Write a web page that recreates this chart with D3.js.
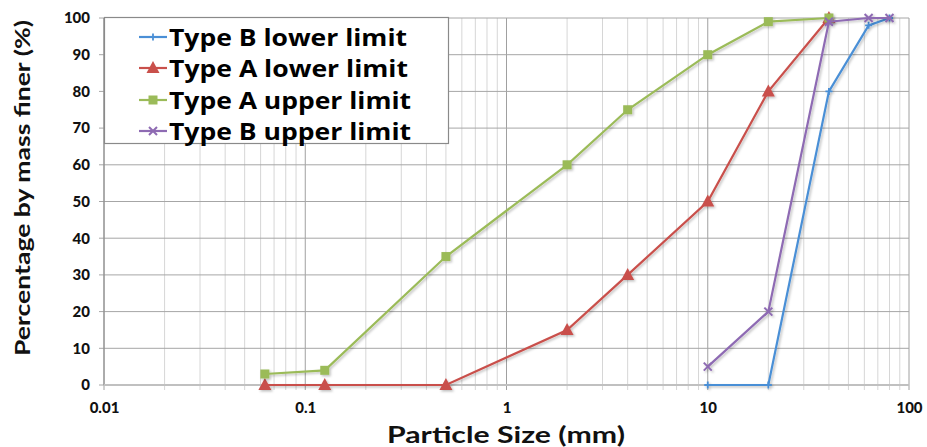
<!DOCTYPE html>
<html><head><meta charset="utf-8">
<script src="https://cdn.jsdelivr.net/npm/d3@7"></script>
<style>body{margin:0;background:#fff}svg{display:block}</style>
</head><body>
<svg id="c" width="927" height="447"></svg>
<script>
const yTicks = [0,10,20,30,40,50,60,70,80,90,100];
const xTicks = [0.01,0.1,1,10,100];
const xTickLabels = ["0.01","0.1","1","10","100"];
const seriesNames = ["Type B lower limit","Type A lower limit","Type A upper limit","Type B upper limit"];
const seriesColors = ["#4a8fd6","#c9504b","#9bbb59","#8e6bb3"];
const seriesMarkers = ["plus","triangle","square","x"];
const typeBLowerX = [10,20,40,63,80];
const typeBLowerY = [0,0,80,98,100];
const typeALowerX = [0.063,0.125,0.5,2,4,10,20,40];
const typeALowerY = [0,0,0,15,30,50,80,100];
const typeAUpperX = [0.063,0.125,0.5,2,4,10,20,40];
const typeAUpperY = [3,4,35,60,75,90,99,100];
const typeBUpperX = [10,20,40,63,80];
const typeBUpperY = [5,20,99,100,100];

const seriesData = [
  typeBLowerX.map((x,i)=>({x,y:typeBLowerY[i]})),
  typeALowerX.map((x,i)=>({x,y:typeALowerY[i]})),
  typeAUpperX.map((x,i)=>({x,y:typeAUpperY[i]})),
  typeBUpperX.map((x,i)=>({x,y:typeBUpperY[i]}))
];

const svg = d3.select("#c");
const x = d3.scaleLog().domain([0.01,100]).range([104,909]);
const y = d3.scaleLinear().domain([0,100]).range([385,18]);
const font = "Lato, 'Open Sans', sans-serif";
const legendFont = "'Open Sans', Lato, sans-serif";

// minor vertical gridlines
const minor = [];
for (let d=0.01; d<100; d*=10) for (let k=2;k<=9;k++) minor.push(d*k);
svg.append("g").selectAll("line").data(minor).join("line")
  .attr("x1",d=>x(d)).attr("x2",d=>x(d)).attr("y1",y(100)).attr("y2",y(0)+5)
  .attr("stroke","#d6d6d6").attr("stroke-width",1);
// major vertical gridlines
svg.append("g").selectAll("line").data(xTicks).join("line")
  .attr("x1",d=>x(d)).attr("x2",d=>x(d)).attr("y1",y(100)).attr("y2",y(0)+5)
  .attr("stroke","#a0a0a0").attr("stroke-width",1);
// horizontal gridlines
svg.append("g").selectAll("line").data(yTicks).join("line")
  .attr("x1",x(0.01)-5).attr("x2",x(100)).attr("y1",d=>y(d)).attr("y2",d=>y(d))
  .attr("stroke","#a6a6a6").attr("stroke-width",1);
// axis lines
svg.append("line").attr("x1",x(0.01)).attr("x2",x(0.01)).attr("y1",y(100)).attr("y2",y(0))
  .attr("stroke","#888").attr("stroke-width",1);
svg.append("line").attr("x1",x(0.01)).attr("x2",x(100)).attr("y1",y(0)).attr("y2",y(0))
  .attr("stroke","#c0c0c0").attr("stroke-width",2);

// Axes labels via d3 axes
const yAxis = d3.axisLeft(y).tickValues(yTicks).tickSize(0).tickPadding(14);
const gy = svg.append("g").attr("transform",`translate(${x(0.01)},0)`).call(yAxis);
gy.select(".domain").remove();
gy.selectAll("text").attr("font-family",font).attr("font-weight","900").attr("font-size",15).attr("fill","#111");

const xAxis = d3.axisBottom(x).tickValues(xTicks).tickFormat((d,i)=>xTickLabels[i]).tickSize(0).tickPadding(17);
const gx = svg.append("g").attr("transform",`translate(0,${y(0)})`).call(xAxis);
gx.select(".domain").remove();
gx.selectAll("text").attr("font-family",font).attr("font-weight","900").attr("font-size",15).attr("fill","#111");

// titles
svg.append("text").attr("x",506).attr("y",443).attr("text-anchor","middle")
  .attr("font-family",font).attr("font-weight","bold").attr("font-size",22).attr("fill","#111")
  .attr("textLength",238).attr("lengthAdjust","spacingAndGlyphs").text("Particle Size (mm)");
svg.append("text").attr("transform","translate(30,188) rotate(-90)").attr("text-anchor","middle")
  .attr("font-family",font).attr("font-weight","bold").attr("font-size",21).attr("fill","#111")
  .attr("textLength",336).attr("lengthAdjust","spacingAndGlyphs").text("Percentage by mass finer (%)");

// shadow filter
const defs = svg.append("defs");
const f = defs.append("filter").attr("id","sh").attr("x","-10%").attr("y","-10%").attr("width","130%").attr("height","130%");
f.append("feDropShadow").attr("dx",1.5).attr("dy",1.5).attr("stdDeviation",1).attr("flood-color","#000").attr("flood-opacity",0.25);

function drawMarker(g, type, color, cx, cy) {
  if (type==="plus") {
    g.append("path").attr("d",`M${cx-3.5},${cy}H${cx+3.5}M${cx},${cy-3.5}V${cy+3.5}`).attr("stroke",color).attr("stroke-width",1.8);
  } else if (type==="triangle") {
    g.append("path").attr("d",`M${cx},${cy-7}L${cx+6.5},${cy+5}L${cx-6.5},${cy+5}Z`).attr("fill",color);
  } else if (type==="square") {
    g.append("rect").attr("x",cx-4.5).attr("y",cy-4.5).attr("width",9).attr("height",9).attr("fill",color);
  } else if (type==="x") {
    g.append("path").attr("d",`M${cx-4},${cy-4}L${cx+4},${cy+4}M${cx+4},${cy-4}L${cx-4},${cy+4}`).attr("stroke",color).attr("stroke-width",2);
  }
}

const line = d3.line().x(d=>x(d.x)).y(d=>y(d.y));
seriesData.forEach((data,i)=>{
  const g = svg.append("g").attr("filter","url(#sh)");
  g.append("path").datum(data).attr("d",line).attr("fill","none")
    .attr("stroke",seriesColors[i]).attr("stroke-width",2.2);
  data.forEach(d=>drawMarker(g, seriesMarkers[i], seriesColors[i], x(d.x), y(d.y)));
});

// legend
const lg = svg.append("g");
lg.append("rect").attr("x",104.5).attr("y",17.5).attr("width",344).attr("height",126)
  .attr("fill","#fff").attr("stroke","#8a8a8a").attr("stroke-width",1.2);
const rowY = [37,68,100,131];
const legendWidths = [238,239,242,242];
seriesNames.forEach((name,i)=>{
  const cy = rowY[i];
  const g = lg.append("g");
  g.append("line").attr("x1",139).attr("x2",167).attr("y1",cy).attr("y2",cy)
    .attr("stroke",seriesColors[i]).attr("stroke-width",2.2);
  drawMarker(g, seriesMarkers[i], seriesColors[i], 153, cy);
  g.append("text").attr("x",169).attr("y",cy+9).attr("font-family",legendFont).attr("font-weight","bold")
    .attr("font-size",24).attr("fill","#000")
    .attr("textLength",legendWidths[i]).attr("lengthAdjust","spacingAndGlyphs").text(name);
});
</script>
</body></html>
